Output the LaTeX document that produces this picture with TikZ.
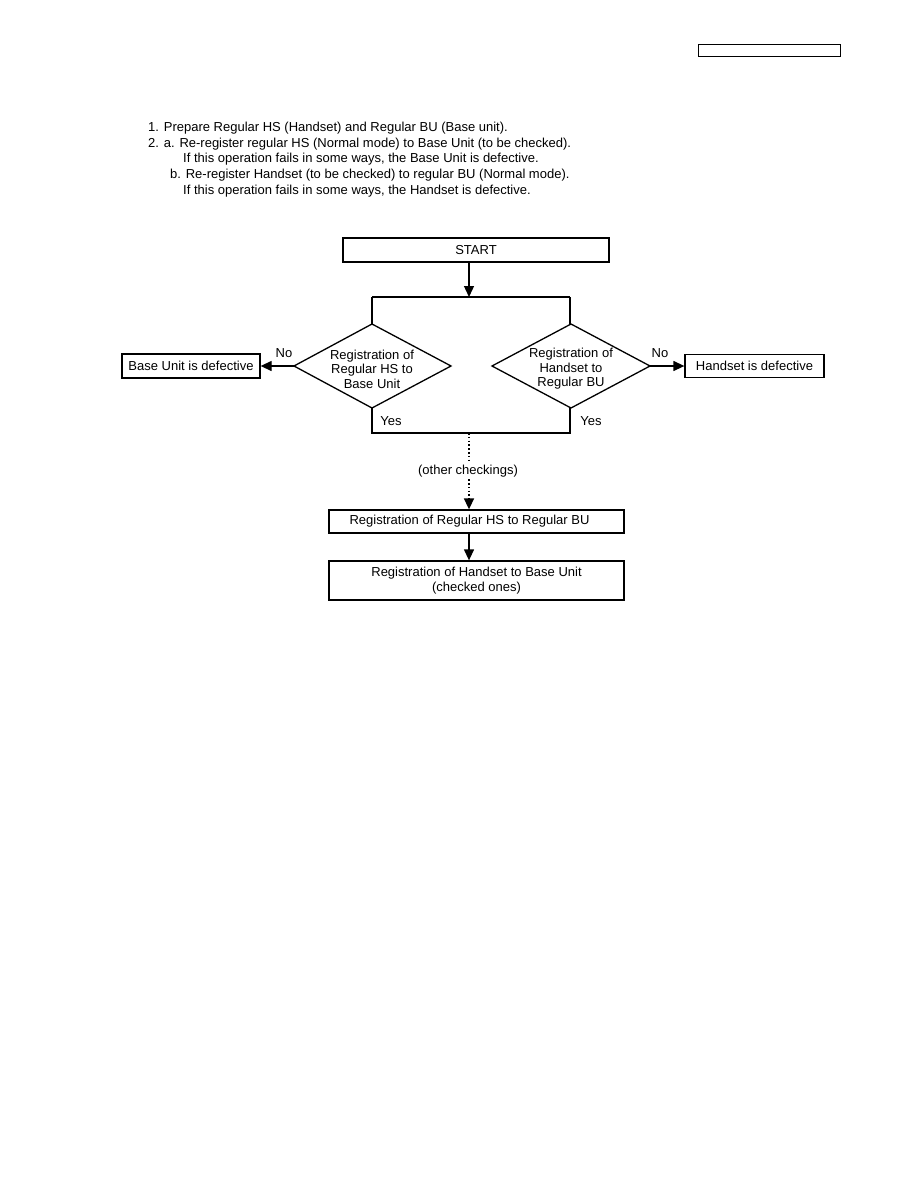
\documentclass[tikz,border=0pt]{standalone}
\usepackage{fontspec}
\setmainfont{Liberation Sans}
\usetikzlibrary{arrows.meta}
\begin{document}
\begin{tikzpicture}[x=1pt,y=-1pt,
  every node/.style={font=\fontsize{13}{14.5}\selectfont},
  box/.style={draw,line width=1.3pt,inner sep=0pt,align=center},
  line/.style={line width=1.3pt},
  tip/.style={-{Triangle[length=11pt,width=10pt]}},
  arr/.style={line width=1.3pt,tip},
  lbl/.style={inner sep=0pt},
  txt/.style={anchor=base west,inner sep=0pt}]
\useasboundingbox (0,0) rectangle (918,1188);
% header box
\node[box,minimum width=142pt,minimum height=12pt,line width=1pt] (hdr) at (769,51) {};
% instructions
\node[txt] (t1) at (148,131.5) {1. Prepare Regular HS (Handset) and Regular BU (Base unit).};
\node[txt] (t2) at (148,147.5) {2. a. Re-register regular HS (Normal mode) to Base Unit (to be checked).};
\node[txt] (t3) at (183,162.5) {If this operation fails in some ways, the Base Unit is defective.};
\node[txt] (t4) at (170,178.5) {b. Re-register Handset (to be checked) to regular BU (Normal mode).};
\node[txt] (t5) at (183,194.5) {If this operation fails in some ways, the Handset is defective.};
% flowchart
\node[box,minimum width=266pt,minimum height=24pt] (start) at (476,250) {START};
\coordinate (split) at (469,297);
\coordinate (sl) at (372,297);
\coordinate (sr) at (570,297);
\draw[arr] (start.south -| split) -- (split);
\draw[line] (sl) -- (sr);
% diamonds
\draw[line] (294,366) -- (372,324) -- (451,366) -- (372,408) -- cycle;
\coordinate (dlW) at (294,366); \coordinate (dlN) at (372,324); \coordinate (dlS) at (372,408);
\node[lbl,align=center] (dl) at (372,369) {Registration of\\Regular HS to\\Base Unit};
\draw[line] (492,366) -- (571,324) -- (650,366) -- (571,408) -- cycle;
\coordinate (drE) at (650,366); \coordinate (drN) at (571,324); \coordinate (drS) at (571,408);
\node[lbl,align=center] (dr) at (571,369) {Registration of\\Handset to\\Regular BU};
\draw[line] (sl) -- (dlN);
\draw[line] (sr) -- (570,324);
% outcome boxes
\node[box,minimum width=138pt,minimum height=24pt] (bud) at (191,366) {Base Unit is defective};
\node[box,minimum width=139pt,minimum height=23pt] (hsd) at (754.5,366) {Handset is defective};
\draw[arr] (dlW) -- (bud.east);
\draw[arr] (drE) -- (hsd.west);
\node[lbl] (no1) at (284,353) {No};
\node[lbl] (no2) at (660,353) {No};
% yes join
\coordinate (jl) at (372,433);
\coordinate (jr) at (570,433);
\coordinate (jm) at (469,433);
\draw[line] (dlS) -- (jl) -- (jr) -- (570,408);
\node[lbl] (yes1) at (391,421) {Yes};
\node[lbl] (yes2) at (591,421) {Yes};
% other checkings
\node[box,minimum width=295pt,minimum height=23pt] (reg1) at (476.5,521.5) {\hspace*{-14pt}Registration of Regular HS to Regular BU};
\node[lbl,inner sep=2pt] (oc) at (468,471) {(other checkings)};
\draw[line width=1.6pt,dash pattern=on 1.6pt off 2.2pt] (jm) -- (oc.north -| jm);
\draw[line width=1.6pt,dash pattern=on 1.6pt off 2.2pt,tip] (oc.south -| jm) -- (reg1.north -| jm);
\node[box,minimum width=295pt,minimum height=39pt,align=center] (reg2) at (476.5,580.5) {Registration of Handset to Base Unit\\(checked ones)};
\draw[arr] (reg1.south -| jm) -- (reg2.north -| jm);
\end{tikzpicture}
\end{document}
